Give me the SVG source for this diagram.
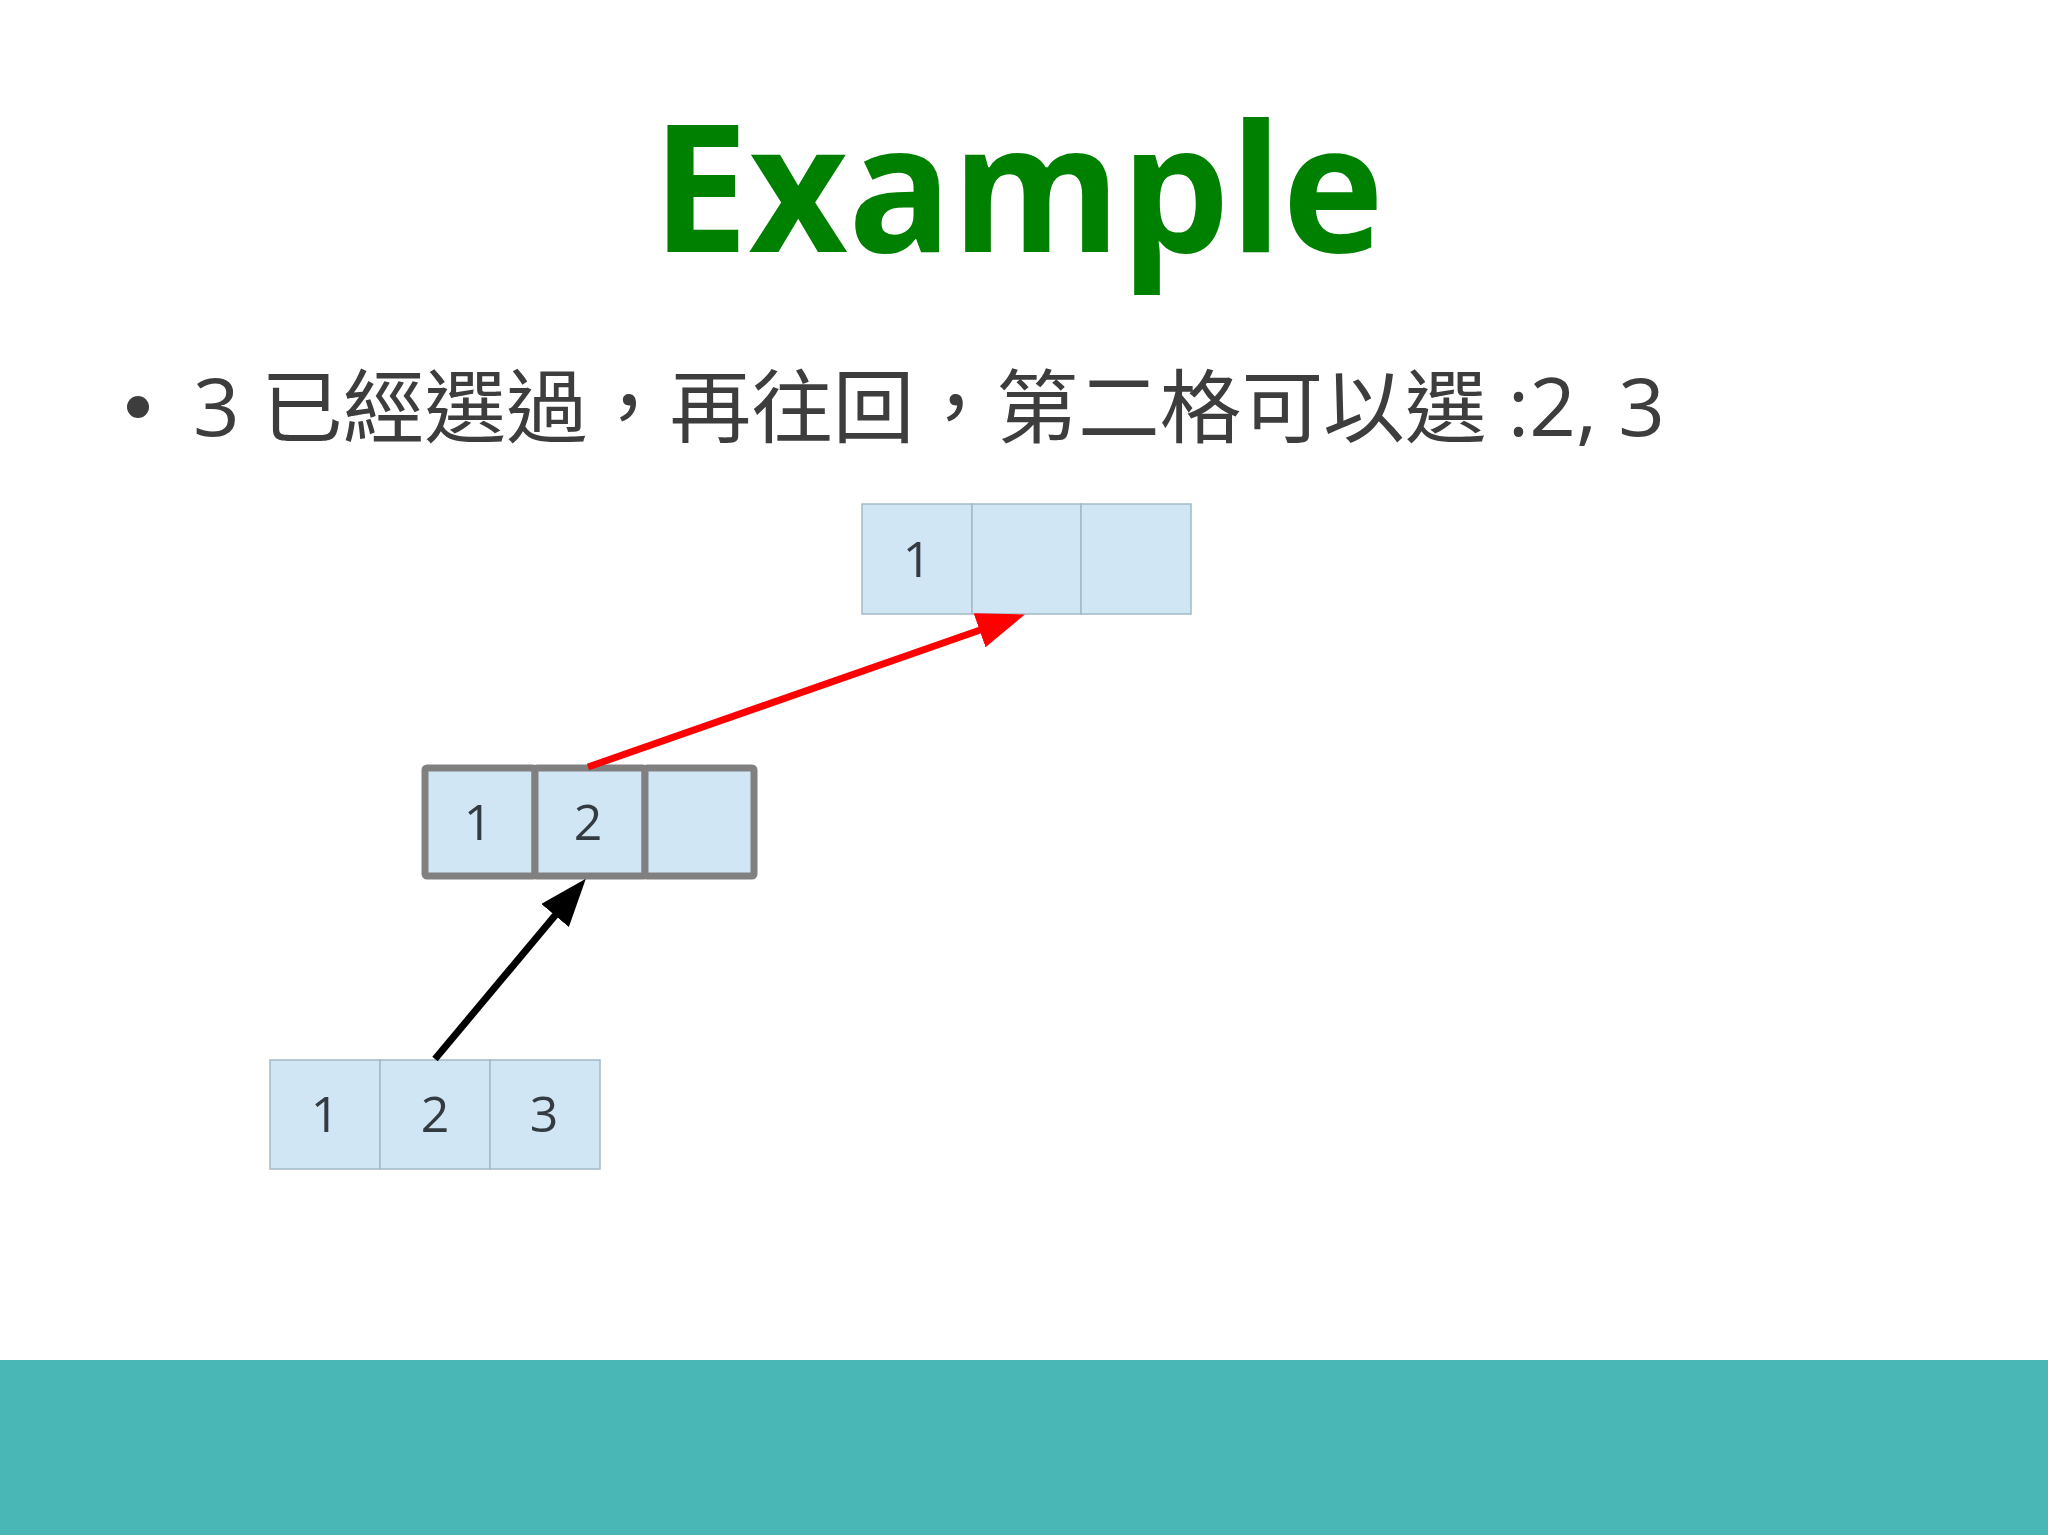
<svg xmlns="http://www.w3.org/2000/svg" width="2048" height="1535" viewBox="0 0 2048 1535">
<defs>
<style>
.title{font-family:"Open Sans","Liberation Sans",sans-serif;font-weight:700;font-size:178px;fill:#008000}
.body{font-family:"Open Sans","Noto Sans CJK TC",sans-serif;font-size:80px;fill:#3d3d3d}
.cell{fill:#d0e6f4;stroke:#a3b9c6;stroke-width:1.5}
.cellb{fill:#d0e6f4;stroke:#808080;stroke-width:7;stroke-linejoin:round}
.num{font-family:"Open Sans","Liberation Sans",sans-serif;font-size:50px;fill:#333a40;text-anchor:middle}
</style>
<marker id="headK" markerUnits="userSpaceOnUse" viewBox="0 0 48 36" refX="28" refY="18" markerWidth="48" markerHeight="36" orient="auto"><path d="M0,0 L48,18 L0,36 Z" fill="#000"/></marker>
<marker id="headR" markerUnits="userSpaceOnUse" viewBox="0 0 48 36" refX="28" refY="18" markerWidth="48" markerHeight="36" orient="auto"><path d="M0,0 L48,18 L0,36 Z" fill="#ff0000"/></marker>
</defs>
<rect x="0" y="0" width="2048" height="1535" fill="#ffffff"/>
<text class="title" x="652" y="252" textLength="732" lengthAdjust="spacingAndGlyphs">Example</text>
<circle cx="138" cy="407" r="11" fill="#3d3d3d"/>
<text class="body" x="193" y="436" textLength="1472" lengthAdjust="spacingAndGlyphs">3 已經選過，再往回，第二格可以選 :2, 3</text>
<g id="top-array">
<rect class="cell" x="862" y="504" width="110" height="110"/>
<rect class="cell" x="972" y="504" width="109" height="110"/>
<rect class="cell" x="1081" y="504" width="110" height="110"/>
<text class="num" x="917" y="577">1</text>
</g>
<g id="mid-array">
<rect class="cellb" x="425" y="768" width="110" height="108" rx="2"/>
<rect class="cellb" x="535" y="768" width="110" height="108" rx="2"/>
<rect class="cellb" x="645" y="768" width="109" height="108" rx="2"/>
<text class="num" x="478" y="840">1</text>
<text class="num" x="588" y="840">2</text>
</g>
<g id="bottom-array">
<rect class="cell" x="270" y="1060" width="110" height="109"/>
<rect class="cell" x="380" y="1060" width="110" height="109"/>
<rect class="cell" x="490" y="1060" width="110" height="109"/>
<text class="num" x="325" y="1132">1</text>
<text class="num" x="435" y="1132">2</text>
<text class="num" x="544" y="1132">3</text>
</g>
<g id="connectors">
<line x1="435" y1="1059" x2="573" y2="894" stroke="#000" stroke-width="7" marker-end="url(#headK)"/>
<line x1="588" y1="767" x2="1006" y2="621" stroke="#ff0000" stroke-width="7" marker-end="url(#headR)"/>
</g>
<rect x="0" y="1360" width="2048" height="175" fill="#4ab7b7"/>
</svg>
